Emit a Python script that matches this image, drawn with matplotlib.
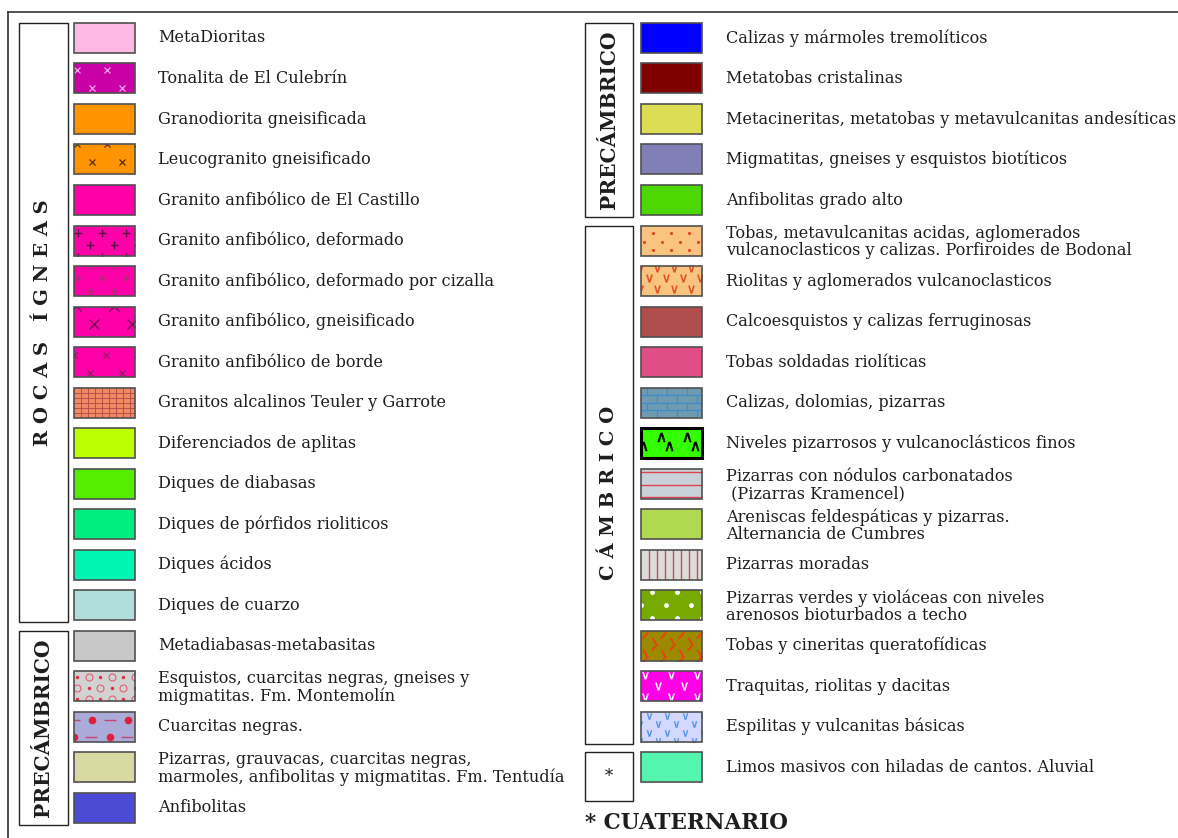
import matplotlib
matplotlib.use("Agg")
import matplotlib.pyplot as plt
from matplotlib.patches import Rectangle

# ---- data -------------------------------------------------------------
left_labels = [
    "MetaDioritas",
    "Tonalita de El Culebrín",
    "Granodiorita gneisificada",
    "Leucogranito gneisificado",
    "Granito anfibólico de El Castillo",
    "Granito anfibólico, deformado",
    "Granito anfibólico, deformado por cizalla",
    "Granito anfibólico, gneisificado",
    "Granito anfibólico de borde",
    "Granitos alcalinos Teuler y Garrote",
    "Diferenciados de aplitas",
    "Diques de diabasas",
    "Diques de pórfidos rioliticos",
    "Diques ácidos",
    "Diques de cuarzo",
    "Metadiabasas-metabasitas",
    "Esquistos, cuarcitas negras, gneises y\nmigmatitas. Fm. Montemolín",
    "Cuarcitas negras.",
    "Pizarras, grauvacas, cuarcitas negras,\nmarmoles, anfibolitas y migmatitas. Fm. Tentudía",
    "Anfibolitas",
]
left_colors = [
    "#FDB8E4", "#C800A6", "#FF9300", "#FF9300", "#FF00A8",
    "#FF00A8", "#FF00A8", "#FF00A8", "#FF00A8", "#F08A62",
    "#BBFF00", "#55EE00", "#00EE80", "#00F5B2", "#B0DCDA",
    "#C8C8C8", "#D2D2D2", "#ABABD9", "#D8D8A2", "#4B4BD6",
]
left_patterns = [
    None, "tonalita", None, "leuco", None,
    "cruces", "cruces_finas", "aspas", "aspas_finas", "cuadricula",
    None, None, None, None, None,
    None, "esquistos", "cuarcitas", None, None,
]
left_groups = [("R O C A S   Í G N E A S", 0, 14), ("PRECÁMBRICO", 15, 19)]

right_labels = [
    "Calizas y mármoles tremolíticos",
    "Metatobas cristalinas",
    "Metacineritas, metatobas y metavulcanitas andesíticas",
    "Migmatitas, gneises y esquistos biotíticos",
    "Anfibolitas grado alto",
    "Tobas, metavulcanitas acidas, aglomerados\nvulcanoclasticos y calizas. Porfiroides de Bodonal",
    "Riolitas y aglomerados vulcanoclasticos",
    "Calcoesquistos y calizas ferruginosas",
    "Tobas soldadas riolíticas",
    "Calizas, dolomias, pizarras",
    "Niveles pizarrosos y vulcanoclásticos finos",
    "Pizarras con nódulos carbonatados\n (Pizarras Kramencel)",
    "Areniscas feldespáticas y pizarras.\nAlternancia de Cumbres",
    "Pizarras moradas",
    "Pizarras verdes y violáceas con niveles\narenosos bioturbados a techo",
    "Tobas y cineritas queratofídicas",
    "Traquitas, riolitas y dacitas",
    "Espilitas y vulcanitas básicas",
    "Limos masivos con hiladas de cantos. Aluvial",
]
right_colors = [
    "#0000FF", "#800000", "#DCDC55", "#8080B6", "#4CD800",
    "#F9C47F", "#F9C47F", "#B04E4E", "#E04E88", "#6E9BB0",
    "#33FF00", "#C8D2D8", "#B0D850", "#DCDCDC", "#77AA00",
    "#9C8A00", "#FF00E6", "#D4D8FF", "#55F5B0",
]
right_patterns = [
    None, None, None, None, None,
    "puntos_rojos", "v_rojas", None, None, "ladrillo",
    "tejados", "rayas_h", None, "rayas_v", "puntos_blancos",
    "trazos", "v_blancas", "v_azules", None,
]
right_groups = [("PRECÁMBRICO", 0, 4), ("C Á M B R I C O", 5, 17), ("*", 18, 18)]
footnote = "* CUATERNARIO"

# ---- layout (pixels) --------------------------------------------------
W, H = 1178, 838
ROW0, STEP = 38, 40.5
SW, SH = 61, 30
TEXT_COLOR = "#1E1E1E"
SERIF = "DejaVu Serif"

fig = plt.figure(figsize=(W / 100, H / 100), dpi=100)
ax = fig.add_axes([0, 0, 1, 1])
ax.set_xlim(0, W)
ax.set_ylim(H, 0)
ax.axis("off")

# outer frame (top + left only)
ax.plot([8, W], [12, 12], color="#333333", lw=1.2)
ax.plot([8, 8], [12, H], color="#333333", lw=1.2)

MARKS = {
    "tonalita": [dict(marker="x", color="#F4A6EE", ms=4.5, mew=0.9, dx=30, dy=18, ox=3, oy=7, shift=15)],
    "leuco": [dict(marker="x", color="#5A3010", ms=4.5, mew=0.9, dx=30, dy=18, ox=3, oy=0, shift=15)],
    "cruces": [dict(marker="+", color="#5A1046", ms=6, mew=1.0, dx=24, dy=12, ox=4, oy=8, shift=12)],
    "cruces_finas": [dict(marker="+", color="#A03070", ms=4, mew=0.8, dx=24, dy=12.5, ox=16, oy=0, shift=12)],
    "aspas": [dict(marker="x", color="#701050", ms=7.5, mew=1.0, dx=38, dy=18, ox=2, oy=0, shift=18)],
    "aspas_finas": [dict(marker="x", color="#802060", ms=4.5, mew=0.8, dx=32, dy=18, ox=0, oy=8, shift=16)],
    "esquistos": [
        dict(marker="o", color="#E03040", ms=2.5, mew=0, dx=23, dy=11, ox=3, oy=6, shift=11.5),
        dict(marker="o", color="#E06070", mfc="none", ms=5, mew=0.8, dx=23, dy=11, ox=14.5, oy=6, shift=11.5),
    ],
    "cuarcitas": [
        dict(marker="o", color="#E0203A", ms=5.5, mew=0, dx=36, dy=17, ox=18, oy=8, shift=18),
        dict(marker="_", color="#C04870", ms=8, mew=1.0, dx=36, dy=17, ox=0, oy=8, shift=17),
    ],
    "puntos_rojos": [dict(marker="o", color="#E04A20", ms=2.3, mew=0, dx=18, dy=8.5, ox=12, oy=8, shift=9)],
    "v_rojas": [dict(marker=r"$\vee$", color="#E04A20", ms=5.5, mew=0.2, dx=17, dy=10.5, ox=16, oy=2, shift=8.5)],
    "tejados": [dict(marker=r"$\wedge$", color="#000000", ms=6.5, mew=0.4, dx=26, dy=9, ox=20, oy=9, shift=8, rows=2)],
    "puntos_blancos": [dict(marker="o", color="#FFFFFF", ms=3.5, mew=0, dx=25, dy=13, ox=11, oy=2, shift=14)],
    "trazos": [
        dict(marker=(2, 2, -40), color="#E04A10", ms=6, mew=1.2, dx=18, dy=12, ox=4, oy=4, shift=9),
        dict(marker=(2, 2, 30), color="#E04A10", ms=6, mew=1.2, dx=18, dy=12, ox=13, oy=10, shift=9),
    ],
    "v_blancas": [dict(marker=r"$\vee$", color="#FFFFFF", ms=5.5, mew=0.2, dx=26, dy=11, ox=4, oy=4, shift=13)],
    "v_azules": [dict(marker=r"$\vee$", color="#4A90E0", ms=4.5, mew=0.2, dx=18, dy=8.5, ox=8, oy=4, shift=9)],
}


def grid_points(dx, dy, ox, oy, shift, rows=None):
    xs, ys = [], []
    r = 0
    while oy + r * dy <= SH + 3 and (rows is None or r < rows):
        start = (ox + (shift if r % 2 else 0)) % dx - dx
        x = start
        while x <= SW + 3:
            if x >= -3:
                xs.append(x)
                ys.append(oy + r * dy)
            x += dx
        r += 1
    return xs, ys


def draw_pattern(kind, x0, y0, clip):
    arts = []
    if kind in MARKS:
        for layer in MARKS[kind]:
            layer = dict(layer)
            dx, dy, ox, oy, shift = (layer.pop(k) for k in ("dx", "dy", "ox", "oy", "shift"))
            rows = layer.pop("rows", None)
            xs, ys = grid_points(dx, dy, ox, oy, shift, rows)
            arts += ax.plot([x0 + x for x in xs], [y0 + y for y in ys], ls="none", **layer)
    elif kind == "cuadricula":
        for y in range(5, SH, 5):
            arts += ax.plot([x0, x0 + SW], [y0 + y, y0 + y], color="#B04848", lw=0.6)
        for x in range(7, SW, 7):
            arts += ax.plot([x0 + x, x0 + x], [y0, y0 + SH], color="#B04848", lw=0.6)
    elif kind == "ladrillo":
        for i in range(4):
            ya, yb = y0 + 7.5 * i, y0 + 7.5 * (i + 1)
            if i:
                arts += ax.plot([x0, x0 + SW], [ya, ya], color="#3C8CD0", lw=0.9)
            for x in range(6 + (10 if i % 2 else 0), SW, 20):
                arts += ax.plot([x0 + x, x0 + x], [ya, yb], color="#3C8CD0", lw=0.9)
    elif kind == "rayas_h":
        for y in (3.5, 16, 28):
            arts += ax.plot([x0, x0 + SW], [y0 + y, y0 + y], color="#E04050", lw=1.0)
    elif kind == "rayas_v":
        for x in range(8, SW, 8):
            arts += ax.plot([x0 + x, x0 + x], [y0, y0 + SH], color="#D04858", lw=1.0)
    for a in arts:
        a.set_clip_path(clip)


def draw_column(labels, colors, patterns, sx, tx):
    for i, (lab, col, pat) in enumerate(zip(labels, colors, patterns)):
        cy = ROW0 + STEP * i
        y0 = cy - SH / 2
        bold_edge = pat == "tejados"
        rect = Rectangle((sx, y0), SW, SH, facecolor=col, edgecolor="none", zorder=1)
        ax.add_patch(rect)
        if pat:
            draw_pattern(pat, sx, y0, rect)
        ax.add_patch(Rectangle((sx, y0), SW, SH, facecolor="none",
                               edgecolor="#000000" if bold_edge else "#505050",
                               lw=2.2 if bold_edge else 1.2, zorder=3))
        two = "\n" in lab
        ax.text(tx, cy + (1.5 if two else 0), lab, ha="left", va="center", fontsize=11.6,
                family=SERIF, color=TEXT_COLOR, linespacing=1.0)


def draw_groups(groups, bx0, bx1):
    for name, a, b in groups:
        top = ROW0 + STEP * a - SH / 2
        bot = ROW0 + STEP * b + SH / 2 + (19 if name == "*" else 2)
        ax.add_patch(Rectangle((bx0, top), bx1 - bx0, bot - top, facecolor="white",
                               edgecolor="#222222", lw=1.0))
        if name == "*":
            ax.text((bx0 + bx1) / 2, (top + bot) / 2, name, ha="center", va="center",
                    fontsize=12, family=SERIF, color=TEXT_COLOR)
        else:
            ax.text((bx0 + bx1) / 2, (top + bot) / 2 + (8 if "Á M" in name else 0), name,
                    ha="center", va="center", rotation=90,
                    fontsize=14 if " " in name else 14.5, fontweight="bold", family=SERIF,
                    color=TEXT_COLOR)


draw_groups(left_groups, 19, 68)
draw_groups(right_groups, 585, 633)
draw_column(left_labels, left_colors, left_patterns, 74, 158)
draw_column(right_labels, right_colors, right_patterns, 641, 726)
ax.text(585, 823, footnote, ha="left", va="center", fontsize=15.5, fontweight="bold",
        family=SERIF, color=TEXT_COLOR)

fig.savefig("out.png", dpi=100)
